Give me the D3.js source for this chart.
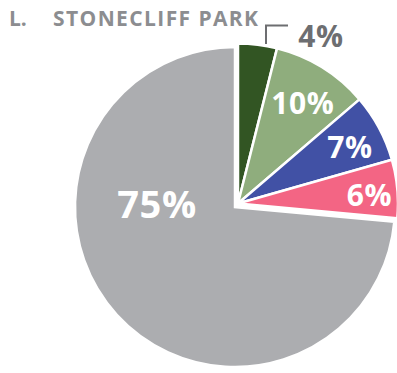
<!DOCTYPE html>
<html><head><meta charset="utf-8">
<script src="https://cdn.jsdelivr.net/npm/d3@7"></script>
<style>body{margin:0;background:#fff} svg{display:block}</style>
</head><body>
<svg id="c" width="397" height="373"></svg>
<script>
// ---- data ----
const titleLetter = "L.";
const titleName = "STONECLIFF PARK";
const categories = ["Slice 1", "Slice 2", "Slice 3", "Slice 4", "Slice 5"];
const values = [4, 10, 7, 6, 75];
const labels = ["4%", "10%", "7%", "6%", "75%"];
const colors = ["#325523", "#8fad7d", "#4151a5", "#f36584", "#acadb0"];

// ---- layout / style ----
const W = 397, H = 373;
const cx = 235, cy = 207, R = 160;
const explode = [3, -3.5];           // offset of small slices group
const labelFont = "'Open Sans', sans-serif";
const labelPlace = [
  {angle: null, r: null, size: 30, dy: 0, color: "#6d6e71", at: [321, 47]},
  {angle: null, r: 123, size: 30, dy: 15, color: "#fff"},
  {angle: null, r: 127, size: 30, dy: 15, color: "#fff"},
  {angle: null, r: 132, size: 30, dy: 15, color: "#fff"},
  {angle: 270, r: 78, size: 38, dy: 11, color: "#fff"}
];

const svg = d3.select("#c");
const data = categories.map((c, i) => ({cat: c, value: values[i], label: labels[i], color: colors[i]}));

const pie = d3.pie().sort(null).value(d => d.value);
const arcs = pie(data);
const arc = d3.arc().innerRadius(0).outerRadius(R);

const gBig = svg.append("g").attr("transform", `translate(${cx},${cy})`);
const gSmall = svg.append("g").attr("transform", `translate(${cx + explode[0]},${cy + explode[1]})`);

arcs.forEach((a, i) => {
  const g = i === arcs.length - 1 ? gBig : gSmall;
  g.append("path").attr("d", arc(a)).attr("fill", a.data.color)
    .attr("stroke", "#fff").attr("stroke-width", 2.5).attr("stroke-linejoin", "miter");
});

// title
svg.append("text").attr("x", 9).attr("y", 26).attr("fill", "#8c8d90")
  .attr("font-family", labelFont).attr("font-weight", 700).attr("font-size", 21)
  .text(titleLetter);
svg.append("text").attr("x", 53).attr("y", 26).attr("fill", "#8c8d90")
  .attr("font-family", labelFont).attr("font-weight", 700).attr("font-size", 21)
  .attr("letter-spacing", 1.4)
  .text(titleName);

// leader line for 4%
svg.append("path").attr("d", d3.line()([[266, 44], [266, 25.5], [288, 25.5]]))
  .attr("fill", "none").attr("stroke", "#6d6e71").attr("stroke-width", 2);

// labels
arcs.forEach((a, i) => {
  const p = labelPlace[i];
  let x, y;
  const g = i === arcs.length - 1 ? [cx, cy] : [cx + explode[0], cy + explode[1]];
  if (p.at) { x = p.at[0]; y = p.at[1]; }
  else {
    const ang = p.angle == null ? (a.startAngle + a.endAngle) / 2 : p.angle * Math.PI / 180;
    const pt = d3.pointRadial(ang, p.r);
    x = g[0] + pt[0]; y = g[1] + pt[1] + p.dy;
  }
  svg.append("text").attr("x", x).attr("y", y).attr("text-anchor", "middle")
    .attr("fill", p.color).attr("font-family", labelFont).attr("font-weight", 700)
    .attr("font-size", p.size).attr("letter-spacing", 0.6).text(a.data.label);
});
</script>
</body></html>
